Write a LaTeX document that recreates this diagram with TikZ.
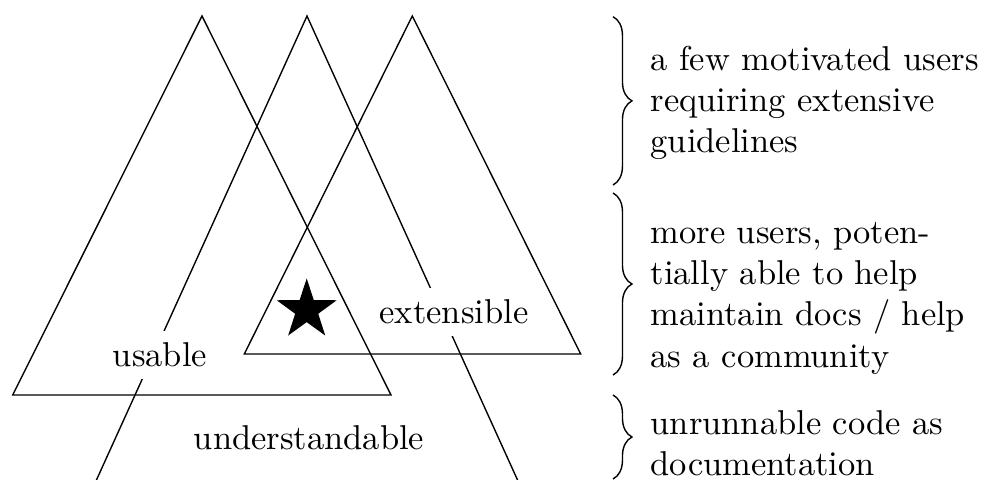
\documentclass[tikz,border=0pt]{standalone}
\usetikzlibrary{shapes.geometric,decorations.pathreplacing}
\begin{document}
\begin{tikzpicture}[x=0.29pt,y=-0.29pt,
  edge/.style={line width=0.4pt},
  lbl/.style={fill=white, inner sep=0.333em},
  note/.style={anchor=west, align=left, inner sep=0pt},
  bracedeco/.style={decorate, decoration={brace, amplitude=5.5pt}, line width=0.4pt}]
\clip (0,0) rectangle (985,479);
% left triangle (usable)
\coordinate (uA) at (202,16);
\coordinate (uL) at (12.7,395);
\coordinate (uR) at (391,395);
% right triangle (extensible)
\coordinate (eA) at (412.3,16);
\coordinate (eL) at (244.3,354);
\coordinate (eR) at (580.7,354);
% middle triangle (understandable), base below the picture
\coordinate (mA) at (307,16);
\coordinate (mL) at (42,600);
\coordinate (mR) at (572,600);
\draw[edge] (uA) -- (uL) -- (uR) -- cycle;
\draw[edge] (eA) -- (eL) -- (eR) -- cycle;
\draw[edge] (mL) -- (mA) -- (mR);
% labels
\node[lbl] (usable) at (160,355) {usable};
\node[lbl] (extensible) at (454,312) {extensible};
\node[lbl] (understandable) at (309,438) {understandable};
\node[star, star points=5, star point ratio=2.6, fill=black, inner sep=0pt, minimum size=18.3pt] (best) at (306.7,310) {};
% braces
\coordinate (b1t) at (613,16.7);
\coordinate (b1b) at (613,185);
\coordinate (b2t) at (613,193);
\coordinate (b2b) at (613,375);
\coordinate (b3t) at (613,395);
\coordinate (b3b) at (613,479);
\draw[bracedeco] (b1t) -- (b1b);
\draw[bracedeco] (b2t) -- (b2b);
\draw[bracedeco] (b3t) -- (b3b);
\node[note] (n1) at (650,103) {a few motivated users\\requiring extensive\\guidelines};
\node[note] (n2) at (650,298) {more users, poten-\\tially able to help\\maintain docs / help\\as a community};
\node[note] (n3) at (650,443) {unrunnable code as\\documentation};
\end{tikzpicture}
\end{document}
